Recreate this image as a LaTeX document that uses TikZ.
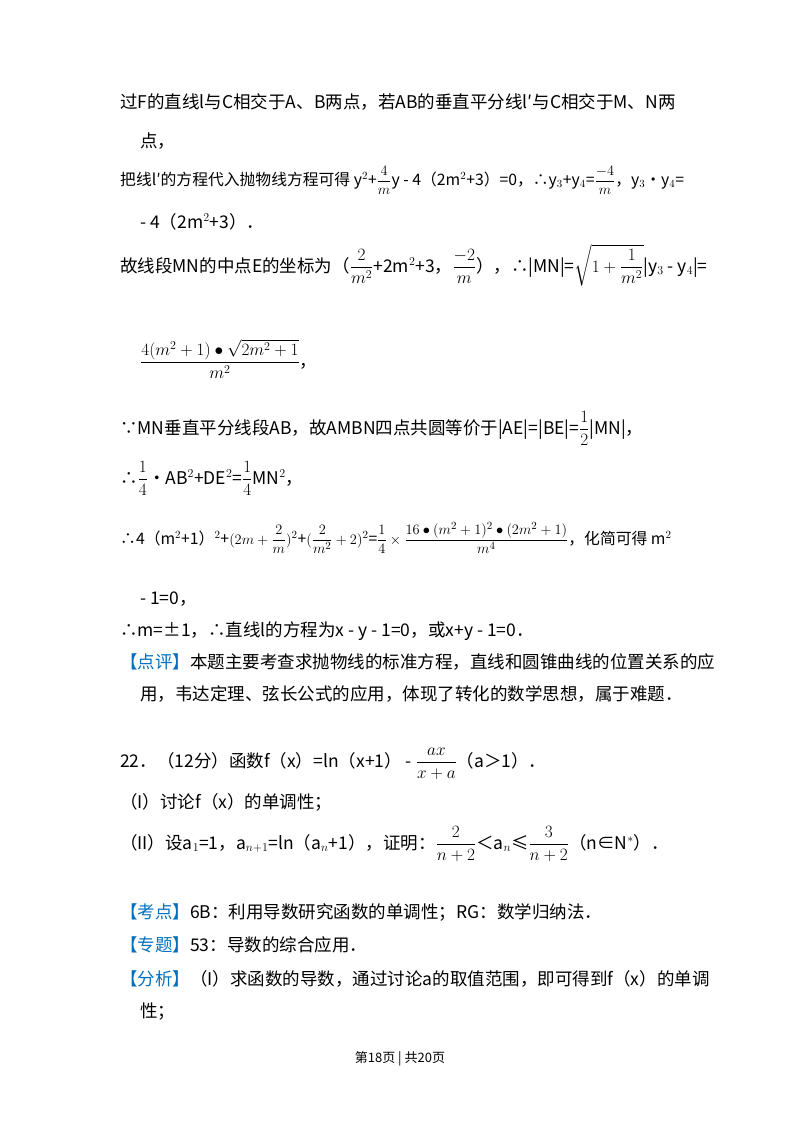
\documentclass[tikz,border=0pt]{standalone}
\usepackage{fontspec}
\setmainfont{Noto Sans CJK SC}
\usepackage{amsmath}
\definecolor{hdblue}{RGB}{0,112,192}
\tikzset{ln/.style={anchor=base west,inner sep=0pt,font=\fontsize{17.5}{20}\selectfont},
 lns/.style={ln,font=\fontsize{15.8}{18}\selectfont}}
\begin{document}
\begin{tikzpicture}[x=1pt,y=-1pt]
\useasboundingbox (0,0) rectangle (800,1133);
\node[ln] (l1) at (120,108) {过F的直线l与C相交于A、B两点，若AB的垂直平分线l′与C相交于M、N两};
\node[ln] (l2) at (140,147) {点，};
\node[lns] (l3) at (120,185) {把线l′的方程代入抛物线方程可得 y$^2$+$\dfrac{4}{m}$y - 4（2m$^2$+3）=0，∴y$_3$+y$_4$=$\dfrac{-4}{m}$，y$_3$•y$_4$=};
\node[ln] (l4) at (140,228) {- 4（2m$^2$+3）．};
\node[ln] (l5) at (120,272) {故线段MN的中点E的坐标为（$\dfrac{2}{m^2}$+2m$^2$+3，$\dfrac{-2}{m}$），∴|MN|=$\sqrt{1+\dfrac{1}{m^2}}$|y$_3$ - y$_4$|=};
\node[ln] (l6) at (140,367) {$\dfrac{4(m^2+1)\bullet\sqrt{2m^2+1}}{m^2}$，};
\node[ln] (l7) at (120,434) {∵MN垂直平分线段AB，故AMBN四点共圆等价于|AE|=|BE|=$\dfrac{1}{2}$|MN|，};
\node[ln] (l8) at (120,484) {∴$\dfrac{1}{4}$•AB$^2$+DE$^2$=$\dfrac{1}{4}$MN$^2$，};
\node[lns] (l9) at (120,544) {∴4（m$^2$+1）$^2$+$(2m+\dfrac{2}{m})^2$+$(\dfrac{2}{m^2}+2)^2$=$\dfrac{1}{4}\times\dfrac{16\bullet(m^2+1)^2\bullet(2m^2+1)}{m^4}$，化简可得 m$^2$};
\node[ln] (l10) at (140,604) {- 1=0，};
\node[ln] (l11) at (120,636) {∴m=±1，∴直线l的方程为x - y - 1=0，或x+y - 1=0．};
\node[ln] (l12) at (120,668) {\textcolor{hdblue}{【点评】}本题主要考查求抛物线的标准方程，直线和圆锥曲线的位置关系的应};
\node[ln] (l13) at (140,700) {用，韦达定理、弦长公式的应用，体现了转化的数学思想，属于难题．};
\node[ln] (l14) at (120,767) {22．（12分）函数f（x）=ln（x+1） - $\dfrac{ax}{x+a}$（a＞1）．};
\node[ln] (l15) at (120,808) {（I）讨论f（x）的单调性；};
\node[ln] (l16) at (120,849) {（II）设a$_1$=1，a$_{n+1}$=ln（a$_n$+1），证明：$\dfrac{2}{n+2}$＜a$_n$≤$\dfrac{3}{n+2}$（n∈N$^*$）．};
\node[ln] (l17) at (120,918) {\textcolor{hdblue}{【考点】}6B：利用导数研究函数的单调性；RG：数学归纳法．};
\node[ln] (l18) at (120,951) {\textcolor{hdblue}{【专题】}53：导数的综合应用．};
\node[ln] (l19) at (120,985) {\textcolor{hdblue}{【分析】}（I）求函数的导数，通过讨论a的取值范围，即可得到f（x）的单调};
\node[ln] (l20) at (140,1017) {性；};
\node[anchor=base,inner sep=0pt,font=\fontsize{13}{15}\selectfont] (ft) at (400,1062) {第18页 | 共20页};
\end{tikzpicture}
\end{document}
